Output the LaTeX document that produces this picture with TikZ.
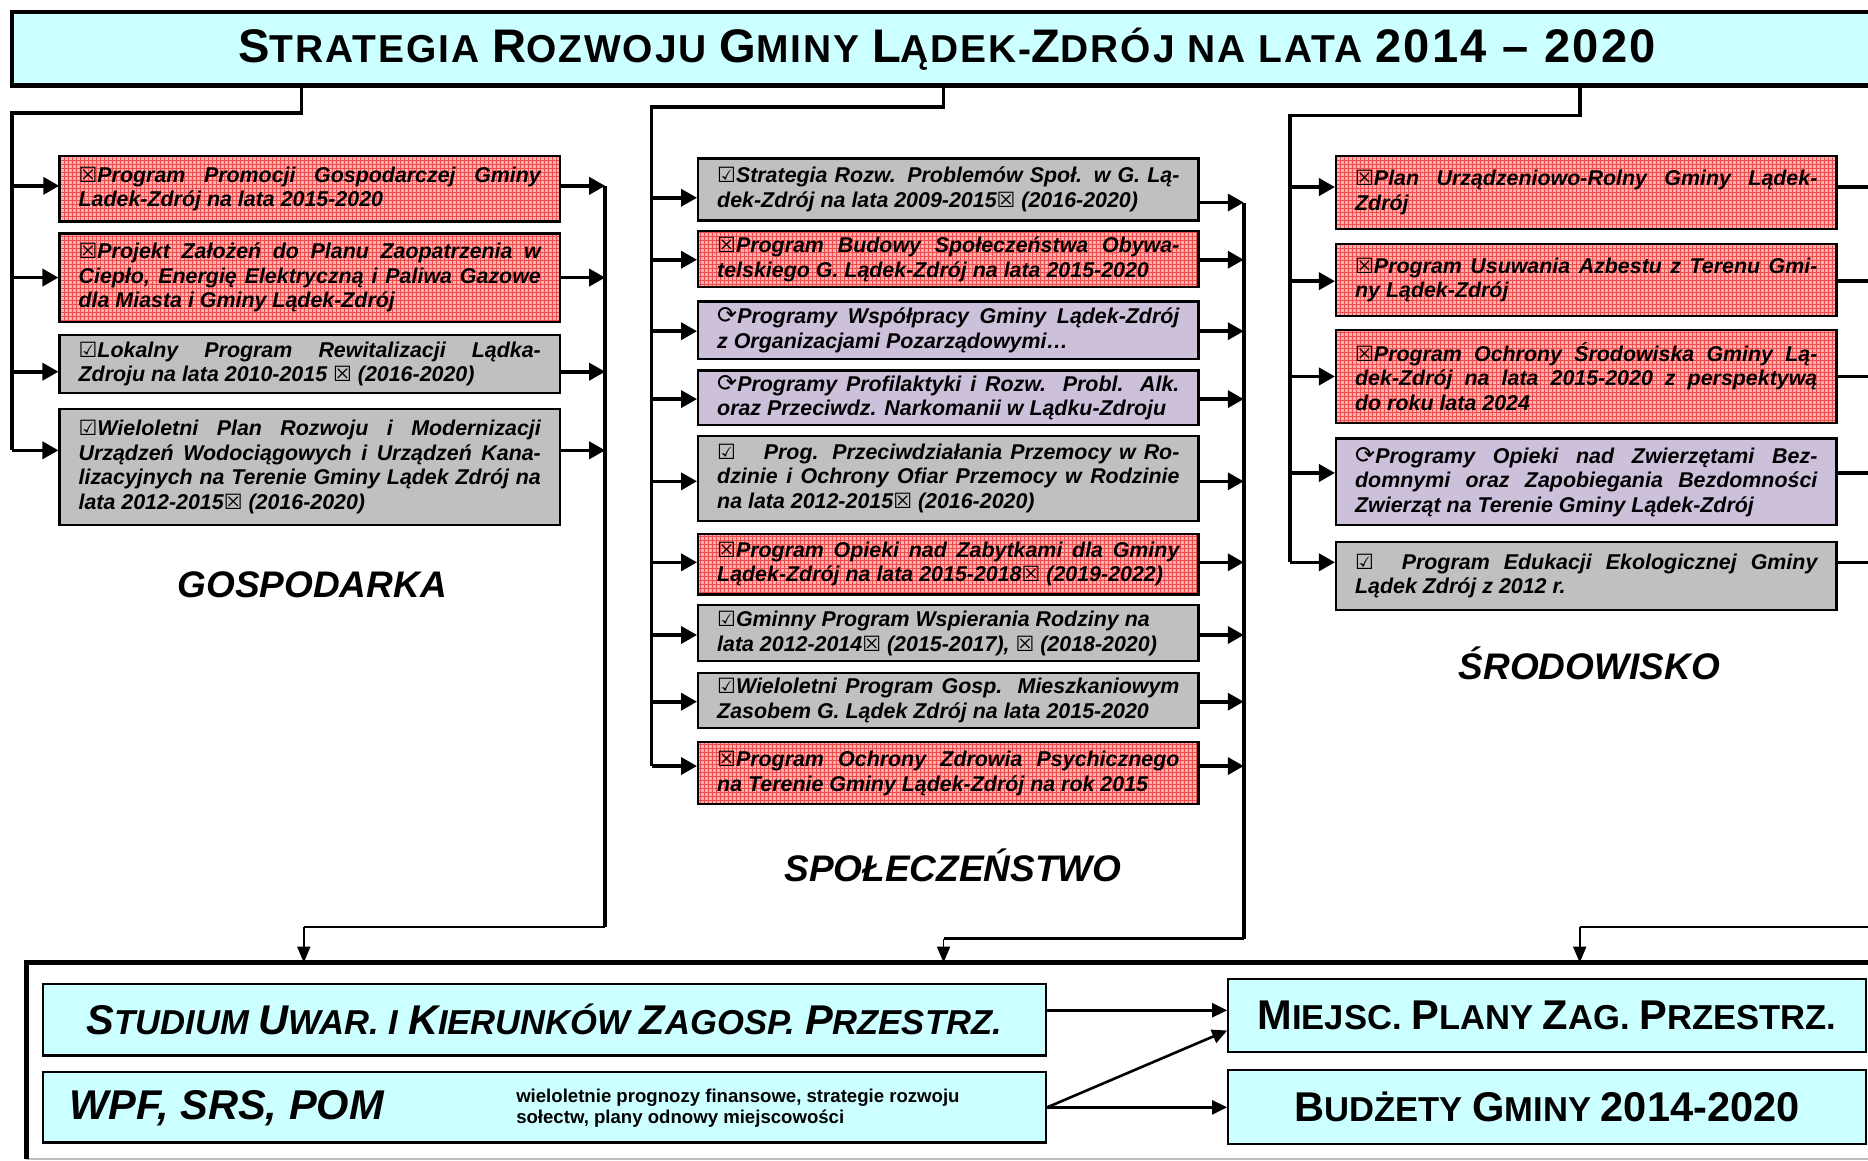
\documentclass[tikz,border=0pt]{standalone}
\usepackage{fontspec}
\usepackage{graphicx}
\setmainfont{Liberation Sans}
\newfontfamily\dejavu{DejaVu Sans}
\newfontfamily\titlefont[LetterSpace=5]{Liberation Sans}
\usetikzlibrary{arrows.meta,patterns.meta}
\setlength{\parindent}{0pt}
\definecolor{cyanf}{HTML}{CCFFFF}
\definecolor{grayf}{HTML}{C0C0C0}
\definecolor{purpf}{HTML}{CCC0DA}
\definecolor{redbg}{HTML}{FAB2B2}
\definecolor{redln}{HTML}{F04C4C}
\def\U{0.5957pt}
\newcommand\IcX{{\mdseries\upshape\dejavu\fontsize{10.5pt}{9pt}\selectfont ☒}}
\newcommand\IcV{{\mdseries\upshape\dejavu\fontsize{10.5pt}{9pt}\selectfont ☑}}
\newcommand\IcR{{\mdseries\upshape\dejavu\fontsize{12pt}{9pt}\selectfont ⟳}}
\newcommand\Bg[1]{{\fontsize{23pt}{26pt}\selectfont #1}}
\newcommand\Bb[1]{{\fontsize{20.8pt}{24pt}\selectfont #1}}
\newcommand\InA[3]{\draw[arr] (#1 |- 0,#3) -- (#2.west |- 0,#3);}
\newcommand\OutA[3]{\draw[arr] (#2.east |- 0,#3) -- (#1 |- 0,#3);}
\newcommand\BoxFont{\bfseries\itshape\fontsize{10.7pt}{12.3pt}\selectfont
  \tolerance=10000\relax\hyphenpenalty=10000\relax\exhyphenpenalty=10000\relax}
\tikzset{
  box/.style={draw=black, line width=1.1pt, inner xsep=16*\U, inner ysep=0pt,
    text width=388*\U, align=justify, minimum width=420*\U, font=\BoxFont},
  redbox/.style={box, preaction={fill=redbg}, pattern={Hatch[distance=2pt,line width=0.3pt]}, pattern color=redln},
  graybox/.style={box, fill=grayf},
  purpbox/.style={box, fill=purpf},
  arr/.style={line width=1.8pt, -{Triangle[length=8pt,width=8.5pt]}},
  trunk/.style={line width=1.8pt},
  link/.style={line width=1.3pt},
  thinarr/.style={line width=0.9pt, -{Triangle[length=8pt,width=6.5pt]}},
  barr/.style={line width=1.3pt, -{Triangle[length=7.5pt,width=7pt]}},
  cbox/.style={draw=black, line width=1.1pt, fill=cyanf, inner sep=0pt},
  sect/.style={font=\bfseries\itshape\fontsize{18.5pt}{22pt}\selectfont, inner sep=0pt},
}
\begin{document}
\begin{tikzpicture}[x=\U,y=-\U]
\useasboundingbox (0,0) rectangle (1568,974);
\fill[white] (0,0) rectangle (1568,974);
\clip (0,0) rectangle (1568,974);

% title
\node[draw=black, line width=2.4pt, fill=cyanf, minimum width=1570*\U, minimum height=62*\U, inner sep=0pt] (title) at (795,41)
  {\resizebox{709pt}{!}{\titlefont\bfseries\fontsize{19pt}{22pt}\selectfont \Bg{S}TRATEGIA \Bg{R}OZWOJU \Bg{G}MINY \Bg{L}ĄDEK-\Bg{Z}DRÓJ NA LATA \Bg{2014 – 2020}}};

% column 1
\node[redbox, minimum height=55*\U] (b11) at (260,158.5) {\IcX Program Promocji Gospodarczej Gminy\linebreak Ladek-Zdrój na lata 2015-2020};
\node[redbox, minimum height=74*\U] (b12) at (260,233) {\IcX Projekt Założeń do Planu Zaopatrzenia w\linebreak Ciepło, Energię Elektryczną i Paliwa Gazowe\linebreak dla Miasta i Gminy Lądek-Zdrój};
\node[graybox, minimum height=49*\U] (b13) at (260,305.5) {\IcV Lokalny Program Rewitalizacji Lądka-\linebreak Zdroju na lata 2010-2015 \IcX{} (2016-2020)};
\node[graybox, minimum height=98*\U] (b14) at (260,392) {\IcV Wieloletni Plan Rozwoju i Modernizacji\linebreak Urządzeń Wodociągowych i Urządzeń Kana-\linebreak lizacyjnych na Terenie Gminy Lądek Zdrój na\linebreak lata 2012-2015\IcX{} (2016-2020)};

% column 2
\node[graybox, minimum height=52*\U] (b21) at (796,159) {\IcV Strategia Rozw. Problemów Społ. w G. Lą-\linebreak dek-Zdrój na lata 2009-2015\IcX{} (2016-2020)};
\node[redbox, minimum height=47*\U] (b22) at (796,217.5) {\IcX Program Budowy Społeczeństwa Obywa-\linebreak telskiego G. Lądek-Zdrój na lata 2015-2020};
\node[purpbox, minimum height=48*\U] (b23) at (796,277) {\IcR Programy Współpracy Gminy Lądek-Zdrój\linebreak z Organizacjami Pozarządowymi…};
\node[purpbox, minimum height=46*\U] (b24) at (796,334) {\IcR Programy Profilaktyki i Rozw. Probl. Alk.\linebreak oraz Przeciwdz. Narkomanii w Lądku-Zdroju};
\node[graybox, minimum height=71*\U] (b25) at (796,401.5) {\IcV\hspace{1.3em}Prog. Przeciwdziałania Przemocy w Ro-\linebreak dzinie i Ochrony Ofiar Przemocy w Rodzinie\linebreak na lata 2012-2015\IcX{} (2016-2020)};
\node[redbox, minimum height=51*\U] (b26) at (796,473.5) {\IcX Program Opieki nad Zabytkami dla Gminy\linebreak Lądek-Zdrój na lata 2015-2018\IcX{} (2019-2022)};
\node[graybox, minimum height=47*\U] (b27) at (796,531.5) {\IcV Gminny Program Wspierania Rodziny na\\ lata 2012-2014\IcX{} (2015-2017), \IcX{} (2018-2020)};
\node[graybox, minimum height=46*\U] (b28) at (796,588) {\IcV Wieloletni Program Gosp. Mieszkaniowym\linebreak Zasobem G. Lądek Zdrój na lata 2015-2020};
\node[redbox, minimum height=52*\U] (b29) at (796,649) {\IcX Program Ochrony Zdrowia Psychicznego\linebreak na Terenie Gminy Lądek-Zdrój na rok 2015};

% column 3
\node[redbox, minimum height=61*\U] (b31) at (1331.5,161.5) {\IcX Plan Urządzeniowo-Rolny Gminy Lądek-\linebreak Zdrój};
\node[redbox, minimum height=60*\U] (b32) at (1331.5,235) {\IcX Program Usuwania Azbestu z Terenu Gmi-\linebreak ny Lądek-Zdrój};
\node[redbox, minimum height=78*\U] (b33) at (1331.5,316) {\IcX Program Ochrony Środowiska Gminy Lą-\linebreak dek-Zdrój na lata 2015-2020 z perspektywą\linebreak do roku lata 2024};
\node[purpbox, minimum height=73*\U] (b34) at (1331.5,404.5) {\IcR Programy Opieki nad Zwierzętami Bez-\linebreak domnymi oraz Zapobiegania Bezdomności\linebreak Zwierząt na Terenie Gminy Lądek-Zdrój};
\node[graybox, minimum height=57*\U] (b35) at (1331.5,483.5) {\IcV\hspace{1.3em}Program Edukacji Ekologicznej Gminy\linebreak Lądek Zdrój z 2012 r.};

% section labels
\node[sect] (lg) at (262,491) {GOSPODARKA};
\node[sect] (ls) at (800,726) {SPOŁECZEŃSTWO};
\node[sect] (lsr) at (1334,557) {ŚRODOWISKO};

% trunk coordinates
\coordinate (t1a) at (253,95);
\coordinate (t1) at (10,95);
\coordinate (t2a) at (792,90);
\coordinate (t2) at (547,90);
\coordinate (t3a) at (1326,97);
\coordinate (t3) at (1083,97);
\coordinate (o1) at (508,778);
\coordinate (o2) at (1044,788);
\coordinate (o3) at (1582,778);
\coordinate (d1) at (255,778);
\coordinate (d2) at (792,788);
\coordinate (d3) at (1326,778);

% feeders from title
\draw[trunk] (title.south -| t1a) -- (t1a) -- (t1) -- (10,378);
\draw[trunk] (title.south -| t2a) -- (t2a) -- (t2) -- (547,643);
\draw[trunk] (title.south -| t3a) -- (t3a) -- (t3) -- (1083,472);

\InA{t1}{b11}{156} \InA{t1}{b12}{233} \InA{t1}{b13}{312} \InA{t1}{b14}{378}
\InA{t2}{b21}{166} \InA{t2}{b22}{218} \InA{t2}{b23}{278} \InA{t2}{b24}{335}
\InA{t2}{b25}{404} \InA{t2}{b26}{472} \InA{t2}{b27}{533} \InA{t2}{b28}{589} \InA{t2}{b29}{643}
\InA{t3}{b31}{157} \InA{t3}{b32}{236} \InA{t3}{b33}{316} \InA{t3}{b34}{397} \InA{t3}{b35}{472}

% collectors
\OutA{o1}{b11}{156} \OutA{o1}{b12}{233} \OutA{o1}{b13}{312} \OutA{o1}{b14}{378}
\OutA{o2}{b21}{170} \OutA{o2}{b22}{218} \OutA{o2}{b23}{278} \OutA{o2}{b24}{335}
\OutA{o2}{b25}{404} \OutA{o2}{b26}{472} \OutA{o2}{b27}{533} \OutA{o2}{b28}{589} \OutA{o2}{b29}{643}
\OutA{o3}{b31}{157} \OutA{o3}{b32}{236} \OutA{o3}{b33}{316} \OutA{o3}{b34}{397} \OutA{o3}{b35}{472}

\draw[trunk] (o1 |- 0,156) -- (o1);
\draw[trunk] (o2 |- 0,170) -- (o2);
\draw[trunk] (o3 |- 0,157) -- (o3);
\draw[link] (o1) -- (d1);
\draw[link] (o2) -- (d2);
\draw[link] (o3) -- (d3);

% bottom frame
\node[minimum width=1578*\U, minimum height=164*\U, inner sep=0pt, anchor=north west] (base) at (22,808) {};
\draw[gray!50, line width=1pt] (base.south west) -- (base.south east);
\draw[line width=2.4pt] (base.south west) -- (base.north west) -- (base.north east);

\draw[thinarr] (d1) -- (d1 |- base.north);
\draw[thinarr] (d2) -- (d2 |- base.north);
\draw[thinarr] (d3) -- (d3 |- base.north);

\node[cbox, minimum width=842*\U, minimum height=60*\U, font=\bfseries\itshape\fontsize{17.3pt}{20pt}\selectfont] (stud) at (457,856)
  {\Bb{S}TUDIUM \Bb{U}WAR. I \Bb{K}IERUNKÓW \Bb{Z}AGOSP. \Bb{P}RZESTRZ.};
\node[cbox, minimum width=842*\U, minimum height=59*\U] (wpf) at (457,929.5) {};
\node[anchor=west, inner sep=0pt, font=\bfseries\itshape\fontsize{20.8pt}{24pt}\selectfont] (wpft) at (58,930) {WPF, SRS, POM};
\node[anchor=west, inner sep=0pt, align=left, font=\bfseries\fontsize{9.3pt}{10.7pt}\selectfont] (wpfs) at (433,930)
  {wieloletnie prognozy finansowe, strategie rozwoju\\sołectw, plany odnowy miejscowości};
\node[cbox, minimum width=535*\U, minimum height=61*\U, font=\bfseries\fontsize{17.3pt}{20pt}\selectfont] (miej) at (1298.5,852.5)
  {\Bb{M}IEJSC. \Bb{P}LANY \Bb{Z}AG. \Bb{P}RZESTRZ.};
\node[cbox, minimum width=535*\U, minimum height=62*\U, font=\bfseries\fontsize{17.3pt}{20pt}\selectfont] (budz) at (1298.5,929)
  {\Bb{B}UDŻETY \Bb{G}MINY \Bb{2014-2020}};

\draw[barr] (stud.east |- 0,848) -- (miej.west |- 0,848);
\draw[barr] (wpf.east) -- (budz.west |- wpf.east);
\draw[barr] (wpf.east) -- (miej.west |- 0,865);
\end{tikzpicture}
\end{document}
